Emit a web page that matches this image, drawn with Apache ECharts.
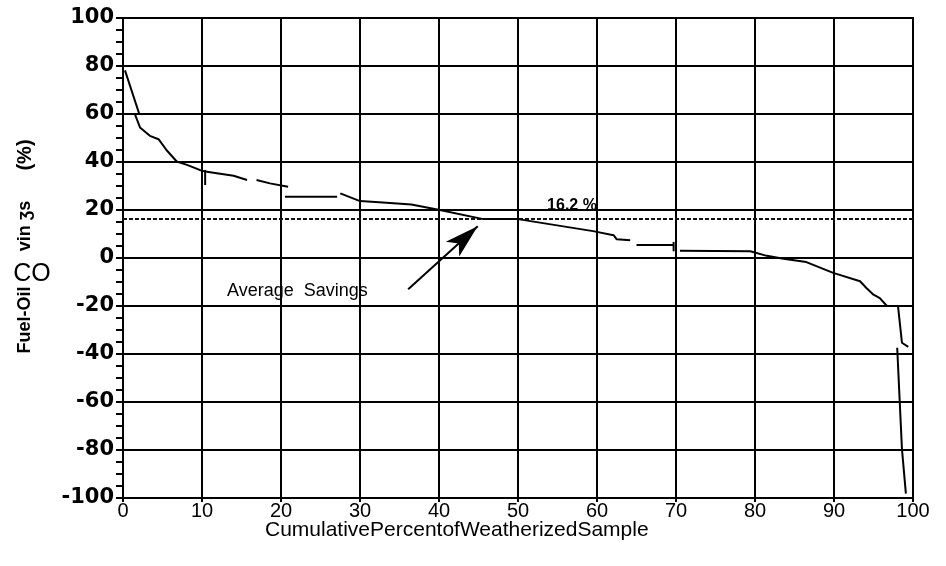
<!DOCTYPE html>
<html><head><meta charset="utf-8">
<script src="https://cdn.jsdelivr.net/npm/echarts@6/dist/echarts.min.js"></script>
<style>html,body{margin:0;padding:0;background:#fff}#c{width:946px;height:566px}</style>
</head><body><div id="c"></div>
<script>
// Axis ticks
const xTickLabels = [0,10,20,30,40,50,60,70,80,90,100];
const yTickLabels = [-100,-80,-60,-40,-20,0,20,40,60,80,100];

// Average savings
const averageSavings = 16.2;
const avgLine = [[0,16.2],[100,16.2]];
const arrowFrom = [36.1,-13];
const arrowTo = [44.9,13.2];

// Sorted savings curve (pieces as they appear in the scanned figure)
const seg1 = [[0.25,78.2],[2.06,60]];
const seg2 = [[1.3,60],[6.2,60]];
const seg3 = [[1.5,60],[2.15,54.4],[3.4,50.9],[4.5,49.5],[5.5,45],[6.8,40.2],[8.1,38.8],[9.7,36.7],[10.4,36],[14,34.3],[15.7,32.5]];
const seg4 = [[10.4,36.7],[10.4,30.4]];
const seg5 = [[16.9,32.5],[18.6,31.1],[20.9,29.7]];
const seg6 = [[20.5,25.5],[27.1,25.5]];
const seg7 = [[27.5,26.9],[30,23.7],[30,23.1],[32.9,23.1],[32.9,22.7],[36.5,22.3],[40.1,20],[45.6,16.2],[50,16.2],[59.5,11.2],[62.1,9.5],[62.5,7.8],[64.2,7.4]];
const seg8 = [[65,5.4],[69.7,5.4]];
const seg9 = [[69.7,6.7],[69.7,2.8]];
const seg10 = [[70.5,3],[79.4,2.8],[81.5,0.9],[83.6,-0.3],[86.5,-1.7],[89.9,-6.2],[93.3,-9.7],[94.1,-12.5],[95,-15.3],[95.8,-16.7],[96.7,-20]];
const seg11 = [[98.1,-20],[100,-20]];
const seg12 = [[98.1,-20],[98.6,-35.3],[99.4,-37]];
const seg13 = [[98,-37.4],[98.6,-79.5],[99.1,-98.2]];
const curveSegments = [seg1,seg2,seg3,seg4,seg5,seg6,seg7,seg8,seg9,seg10,seg11,seg12,seg13];

const chart = echarts.init(document.getElementById('c'), null, {renderer:'canvas'});

const series = curveSegments.map(d => ({
  type:'line', data:d, symbol:'none', silent:true, animation:false, z:5,
  lineStyle:{color:'#000', width:2}
}));
series.push({
  type:'line', data:avgLine, symbol:'none', silent:true, animation:false, z:4,
  lineStyle:{color:'#111', width:2, type:[4,2]},
  markLine:{
    silent:true, animation:false,
    symbol:['none','arrow'], symbolSize:[15,34],
    lineStyle:{color:'#000', width:2, type:'solid'},
    label:{show:false},
    data:[[{coord:arrowFrom},{coord:arrowTo}]]
  }
});

const font = '"Liberation Sans", Arial, sans-serif';
function txt(o){ return Object.assign({type:'text', silent:true, z:10}, o); }

chart.setOption({
  backgroundColor:'#fff',
  animation:false,
  grid:{left:123, right:33, top:18, bottom:68, show:true, borderColor:'#000', borderWidth:2, backgroundColor:'transparent'},
  xAxis:{
    type:'value', min:xTickLabels[0], max:xTickLabels[xTickLabels.length-1], interval:10,
    axisLine:{show:true, onZero:false, lineStyle:{color:'#000', width:2}},
    axisTick:{show:true, length:4, lineStyle:{color:'#000', width:2}},
    axisLabel:{color:'#000', fontSize:20, fontFamily:font, margin:3},
    splitLine:{show:true, lineStyle:{color:'#000', width:2}}
  },
  yAxis:{
    type:'value', min:yTickLabels[0], max:yTickLabels[yTickLabels.length-1], interval:20,
    axisLine:{show:true, onZero:false, lineStyle:{color:'#000', width:2}},
    axisTick:{show:true, length:7, lineStyle:{color:'#000', width:2}},
    minorTick:{show:true, splitNumber:4, length:7, lineStyle:{color:'#000', width:2}},
    axisLabel:{color:'#000', fontSize:21, fontWeight:'bold', fontFamily:'"DejaVu Sans", sans-serif', margin:9},
    splitLine:{show:true, lineStyle:{color:'#000', width:2}}
  },
  series:series,
  graphic:[
    txt({x:265, y:530, style:{text:'CumulativePercentofWeatherizedSample', font:'21px '+font, fill:'#000', textVerticalAlign:'middle', verticalAlign:'middle'}}),
    txt({x:25, y:320, rotation:Math.PI/2, style:{text:'Fuel-Oil', font:'bold 18px '+font, fill:'#000', textAlign:'center', align:'center', textVerticalAlign:'middle', verticalAlign:'middle'}}),
    txt({x:32, y:274, style:{text:'CO', font:'25px '+font, fill:'#000', textAlign:'center', align:'center', textVerticalAlign:'middle', verticalAlign:'middle'}}),
    txt({x:25, y:226, rotation:Math.PI/2, style:{text:'vin ʒs', font:'bold 18px '+font, fill:'#000', textAlign:'center', align:'center', textVerticalAlign:'middle', verticalAlign:'middle'}}),
    txt({x:25, y:155, rotation:Math.PI/2, style:{text:'(%)', font:'bold 20px '+font, fill:'#000', textAlign:'center', align:'center', textVerticalAlign:'middle', verticalAlign:'middle'}}),
    txt({x:227, y:291, style:{text:'Average  Savings', font:'18px '+font, fill:'#000', textVerticalAlign:'middle', verticalAlign:'middle'}}),
    txt({x:572, y:206, style:{text:averageSavings.toFixed(1)+' %', font:'bold 16px '+font, fill:'#000', textAlign:'center', align:'center', textVerticalAlign:'middle', verticalAlign:'middle'}})
  ]
});
</script></body></html>
